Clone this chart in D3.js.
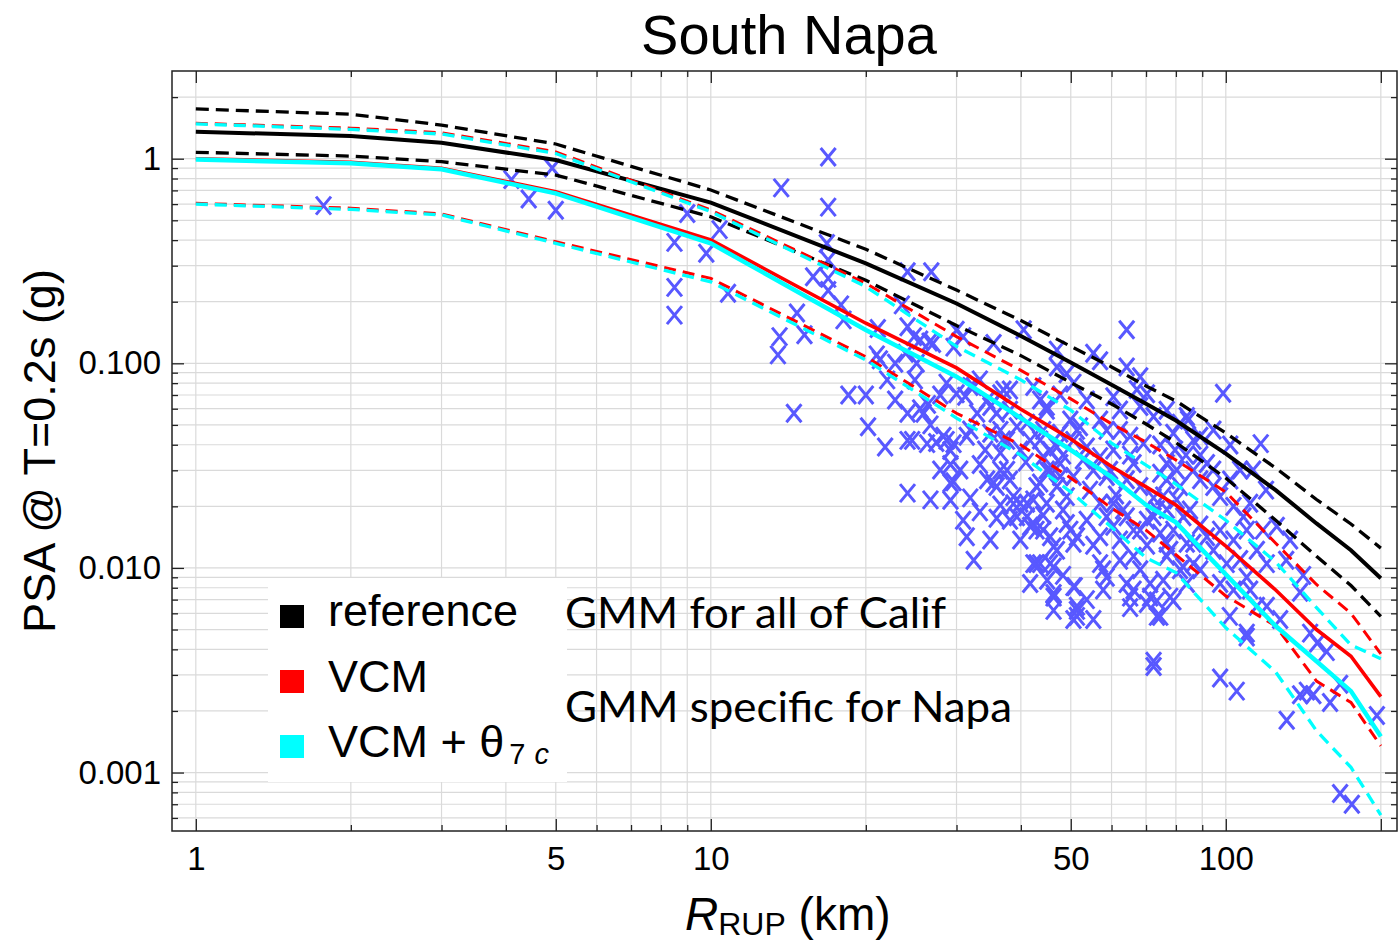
<!DOCTYPE html>
<html>
<head>
<meta charset="utf-8">
<script src="https://cdn.jsdelivr.net/npm/d3@7"></script>
<style>
  body { margin: 0; background: #fff; }
  svg { display: block; }
</style>
</head>
<body>
<div id="chart"></div>
<script>
// distances (km) at which the model curves are evaluated
const rNodes = [1, 2, 3, 5, 10, 20, 30, 40, 50, 60, 70, 80, 100, 125, 150, 175, 200];

// reference GMM (all of California): median and +/- sigma
const refMedian = [1.355, 1.29, 1.197, 0.985, 0.610, 0.308, 0.196, 0.136, 0.101, 0.0785, 0.0635, 0.0525, 0.0362, 0.024, 0.0165, 0.0122, 0.0089];
const refUpper  = [1.75, 1.65, 1.46, 1.18, 0.703, 0.361, 0.228, 0.162, 0.121, 0.096, 0.0775, 0.0655, 0.0456, 0.0308, 0.0216, 0.0164, 0.0125];
const refLower  = [1.075, 1.03, 0.967, 0.832, 0.52, 0.2545, 0.153, 0.109, 0.0805, 0.0633, 0.0505, 0.041, 0.0275, 0.0171, 0.0114, 0.0082, 0.0058];

// VCM
const vcmMedian = [1.0, 0.96, 0.898, 0.690, 0.401, 0.157, 0.095, 0.0596, 0.0427, 0.0313, 0.0249, 0.0203, 0.0128, 0.0078, 0.005, 0.0037, 0.00235];
const vcmUpper  = [1.49, 1.41, 1.34, 1.08, 0.561, 0.246, 0.135, 0.0923, 0.067, 0.0506, 0.0412, 0.0337, 0.0235, 0.0132, 0.0083, 0.006, 0.0038];
const vcmLower  = [0.605, 0.573, 0.537, 0.393, 0.26, 0.1077, 0.057, 0.0399, 0.0275, 0.0196, 0.0153, 0.0116, 0.0073, 0.0052, 0.0028, 0.0022, 0.00135];

// VCM + theta_7c
const thMedian = [0.99, 0.95, 0.888, 0.677, 0.386, 0.1455, 0.086, 0.054, 0.0377, 0.0278, 0.0203, 0.0167, 0.0093, 0.0052, 0.0035, 0.0025, 0.0015];
const thUpper  = [1.48, 1.39, 1.32, 1.06, 0.551, 0.237, 0.121, 0.083, 0.059, 0.0407, 0.0318, 0.0257, 0.0171, 0.0107, 0.0064, 0.0042, 0.0036];
const thLower  = [0.60, 0.565, 0.531, 0.386, 0.25, 0.1038, 0.054, 0.0356, 0.0235, 0.0158, 0.0112, 0.0095, 0.0051, 0.0031, 0.0016, 0.00106, 0.00062];

// recorded stations: rupture distance (km) and PSA (g)
const obsR = [
  1.77, 4.1, 4.43, 4.92, 5.0, 9.0, 8.5, 9.8, 10.4, 8.5, 8.5, 10.8, 13.7, 16.9, 16.9, 16.8, 16.9, 15.8, 16.9, 16.9,
  17.9, 18.1, 14.7, 13.6, 13.5, 15.2, 21.1, 21.0, 22.0, 18.5, 20.0, 14.5, 20.2, 21.8, 24.1, 26.8, 23.5, 24.1, 25.5, 26.6,
  23.9, 22.8, 25.1, 28.7, 24.1, 25.9, 24.1, 26.3, 28.7, 29.6, 29.2, 31.4, 31.2, 31.9, 33.3, 34.4, 33.3, 29.6, 30.9, 35.4,
  30.0, 35.9, 34.9, 36.5, 40.5, 47.0, 55.3, 24.1, 25.5, 26.4, 24.6, 27.4, 29.2, 29.6, 29.2, 31.9, 33.3, 35.9, 31.4, 32.4,
  34.4, 35.9, 38.7, 41.1, 41.7, 44.2, 41.7, 42.9, 45.6, 46.3, 45.0, 46.3, 46.3, 50.9, 51.4, 51.4, 49.9, 51.4, 49.1, 42.9,
  47.7, 45.6, 32.9, 34.9, 36.5, 37.6, 39.3, 41.7, 49.9, 52.1, 47.7, 50.6, 64.2, 57.0, 64.2, 47.0, 49.1, 70.3, 68.2, 72.4,
  79.1, 84.0, 86.5, 24.8, 27.0, 37.0, 42.3, 44.9, 50.6, 28.3, 30.0, 32.4, 38.1, 36.5, 44.2, 47.0, 44.2, 53.7, 57.0, 55.3,
  58.7, 29.2, 35.4, 36.5, 38.7, 41.1, 39.3, 42.3, 44.9, 43.6, 47.0, 49.1, 50.6, 47.7, 43.6, 50.6, 50.6, 47.0, 45.6, 50.6,
  57.0, 58.7, 57.0, 60.5, 64.2, 66.2, 62.3, 57.0, 58.7, 57.8, 64.2, 65.2, 65.2, 66.2, 71.3, 75.6, 74.6, 70.3, 66.2, 64.2,
  68.2, 74.6, 76.8, 72.4, 76.8, 81.5, 79.1, 84.0, 72.4, 76.8, 86.5, 81.5, 76.8, 68.2, 60.5, 67.2, 76.8, 81.5, 84.5, 94.6,
  89.2, 98.8, 116.9, 58.7, 62.3, 65.2, 69.2, 59.6, 80.3, 76.8, 86.5, 91.9, 89.2, 94.6, 97.5, 103.5, 111.5, 108.2, 125.6, 73.5,
  82.7, 74.6, 68.2, 60.5, 66.2, 86.5, 91.9, 97.5, 94.6, 103.5, 109.8, 100.4, 106.6, 114.9, 120.1, 109.8, 97.5, 103.5, 89.2, 84.0,
  71.3, 73.5, 78.0, 101.8, 109.8, 114.9, 120.1, 127.5, 139.4, 72.4, 72.4, 97.5, 105.0, 145.8, 150.5, 157.0, 143.7, 147.9, 159.4, 166.7,
  131.3, 196.5, 166.7, 175.7, 38.1, 44.9, 51.4, 41.1, 37.6, 45.6, 39.9, 42.9, 42.3, 46.3, 57.8, 46.3, 51.4, 73.5, 79.1, 82.7,
  109.8, 139.4, 36.9, 39.9, 40.9, 43.6, 44.9, 48.3, 52.8, 54.5, 42.3, 44.2, 48.3, 53.7, 55.3, 38.1, 36.5, 39.9, 48.3, 53.7,
  55.3, 61.2, 63.2, 70.3, 75.6, 80.3, 85.2, 89.2, 70.3, 78.0, 62.3, 68.2, 83.7, 89.2, 94.5, 102.0, 106.6, 74.6, 79.7, 65.2,
  60.5, 30.5, 27.9, 26.7, 30.9, 34.9, 38.1, 31.9, 34.1, 26.7, 21.3, 22.8, 24.9, 27.9, 43.6, 47.7, 53.7, 57.0, 62.3, 102.0,
  113.0, 119.7, 118.1, 133.3, 131.0, 141.3, 111.5
];
const obsPSA = [
  0.59, 0.79, 0.635, 0.90, 0.56, 0.54, 0.39, 0.345, 0.45, 0.235, 0.172, 0.22, 0.72, 1.02, 0.58, 0.385, 0.32, 0.265, 0.26, 0.227,
  0.193, 0.163, 0.176, 0.135, 0.11, 0.138, 0.148, 0.11, 0.083, 0.07, 0.07, 0.057, 0.049, 0.039, 0.28, 0.28, 0.193, 0.151, 0.13, 0.127,
  0.112, 0.10, 0.10, 0.08, 0.057, 0.057, 0.042, 0.0405, 0.042, 0.0405, 0.032, 0.044, 0.069, 0.077, 0.083, 0.066, 0.032, 0.12, 0.135, 0.125,
  0.145, 0.057, 0.0455, 0.0365, 0.146, 0.116, 0.112, 0.0232, 0.06, 0.063, 0.042, 0.041, 0.0375, 0.0264, 0.0214, 0.022, 0.0188, 0.0175, 0.0142, 0.0109,
  0.027, 0.025, 0.0206, 0.0178, 0.016, 0.0153, 0.0084, 0.0105, 0.0105, 0.0127, 0.0087, 0.0072, 0.0062, 0.0081, 0.0062, 0.0058, 0.0153, 0.0142, 0.0165, 0.025,
  0.0324, 0.030, 0.057, 0.0615, 0.071, 0.042, 0.049, 0.042, 0.0528, 0.049, 0.0455, 0.042, 0.146, 0.103, 0.096, 0.096, 0.089, 0.071, 0.0615, 0.055,
  0.0455, 0.055, 0.042, 0.135, 0.125, 0.074, 0.077, 0.0615, 0.08, 0.044, 0.071, 0.077, 0.059, 0.047, 0.047, 0.039, 0.035, 0.039, 0.035, 0.030,
  0.028, 0.026, 0.026, 0.030, 0.0223, 0.0207, 0.0178, 0.0165, 0.0207, 0.026, 0.025, 0.0223, 0.028, 0.028, 0.0105, 0.0081, 0.0056, 0.0122, 0.0142, 0.0132,
  0.0207, 0.0178, 0.0142, 0.016, 0.0178, 0.0153, 0.0137, 0.0105, 0.009, 0.0078, 0.0084, 0.0072, 0.0064, 0.0078, 0.0084, 0.0087, 0.0058, 0.0067, 0.0324, 0.027,
  0.025, 0.029, 0.0324, 0.022, 0.0193, 0.025, 0.0153, 0.0132, 0.0178, 0.0132, 0.0105, 0.0098, 0.0114, 0.086, 0.0686, 0.0745, 0.059, 0.051, 0.0528, 0.0472,
  0.044, 0.0714, 0.0405, 0.047, 0.047, 0.044, 0.0405, 0.030, 0.0301, 0.027, 0.030, 0.0324, 0.027, 0.025, 0.0223, 0.020, 0.0207, 0.0178, 0.016, 0.0193,
  0.0178, 0.0148, 0.0153, 0.0207, 0.0114, 0.0132, 0.0142, 0.0153, 0.0122, 0.0137, 0.0153, 0.0105, 0.011, 0.0122, 0.0105, 0.009, 0.0084, 0.0078, 0.0098, 0.0084,
  0.0072, 0.0058, 0.0072, 0.0058, 0.0048, 0.0065, 0.0065, 0.0056, 0.0076, 0.0035, 0.0033, 0.0029, 0.0025, 0.0048, 0.0043, 0.0039, 0.0025, 0.0024, 0.0022, 0.0027,
  0.0018, 0.0019, 0.00079, 0.0007, 0.074, 0.059, 0.047, 0.051, 0.030, 0.0375, 0.0207, 0.0153, 0.0105, 0.0075, 0.0098, 0.0101, 0.0065, 0.0069, 0.0069, 0.0101,
  0.0046, 0.0024, 0.0422, 0.0377, 0.0329, 0.0422, 0.0301, 0.0356, 0.0337, 0.024, 0.0215, 0.0181, 0.0192, 0.0171, 0.0129, 0.0269, 0.0203, 0.0137, 0.0092, 0.007,
  0.0056, 0.0227, 0.0192, 0.0171, 0.0225, 0.0215, 0.0192, 0.0162, 0.0129, 0.0122, 0.0109, 0.0098, 0.0356, 0.0356, 0.0301, 0.0269, 0.0301, 0.0399, 0.0377, 0.0356,
  0.0377, 0.0301, 0.0301, 0.0215, 0.0171, 0.0137, 0.0171, 0.0472, 0.0377, 0.05, 0.104, 0.0662, 0.0829, 0.070, 0.0662, 0.070, 0.0662, 0.0528, 0.0591, 0.0399,
  0.0301, 0.024, 0.0153, 0.0137, 0.0109, 0.0092, 0.0078
];

// tick values
const xMajorTicks = [1, 5, 10, 50, 100, 200];
const xMinorTicks = [2, 3, 4, 6, 7, 8, 9, 20, 30, 40, 60, 70, 80, 90];
const yMajorTicks = [1, 0.1, 0.01, 0.001];
const yLabels = {1: "1", 0.1: "0.100", 0.01: "0.010", 0.001: "0.001"};

const legendNames = ["reference", "VCM", "VCM + θ"];
const legendColors = ["#000000", "#ff0000", "#00ffff"];

const W = 1398, H = 945;
const L = 172, R = 1397, T = 71, B = 831;
const sansFont = "'Liberation Sans', Arial, sans-serif";

const x = d3.scaleLog().domain([0.899, 215]).range([L, R]);
const y = d3.scaleLog().domain([0.000518, 2.683]).range([B, T]);

const yMinorTicks = [];
[-4, -3, -2, -1, 0].forEach(e => {
    for (let m = 2; m <= 9; m++) {
        const v = +(m * Math.pow(10, e)).toPrecision(3);
        if (v > 0.000518 && v < 2.683) yMinorTicks.push(v);
    }
});

const svg = d3.select("#chart").append("svg")
    .attr("width", W)
    .attr("height", H)
    .style("font-family", sansFont);

// grid
const grid = svg.append("g");
grid.selectAll("line.gx")
    .data(xMajorTicks.concat(xMinorTicks))
    .join("line")
    .attr("x1", d => x(d)).attr("x2", d => x(d))
    .attr("y1", T).attr("y2", B)
    .attr("stroke", "#dadada").attr("stroke-width", 1.2);
grid.selectAll("line.gy")
    .data(yMajorTicks.concat(yMinorTicks))
    .join("line")
    .attr("x1", L).attr("x2", R)
    .attr("y1", d => y(d)).attr("y2", d => y(d))
    .attr("stroke", "#dadada").attr("stroke-width", 1.2);

// station records, drawn as X marks
const cross = "M-7.5,-9L7.5,9M7.5,-9L-7.5,9";
svg.append("g")
    .selectAll("path")
    .data(obsR.map((r, i) => [r, obsPSA[i]]))
    .join("path")
    .attr("transform", d => `translate(${x(d[0])},${y(d[1])})`)
    .attr("d", cross)
    .attr("fill", "none")
    .attr("stroke", "#5858ff")
    .attr("stroke-width", 3);

// model curves
const line = d3.line()
    .x((d, i) => x(rNodes[i]))
    .y(d => y(d));

const curves = [
    { v: refUpper, c: "#000000", w: 3.3, dash: "13,7" },
    { v: refLower, c: "#000000", w: 3.3, dash: "13,7" },
    { v: refMedian, c: "#000000", w: 4, dash: null },
    { v: vcmUpper, c: "#ff0000", w: 3, dash: "12,7" },
    { v: vcmLower, c: "#ff0000", w: 3, dash: "12,7" },
    { v: vcmMedian, c: "#ff0000", w: 3.6, dash: null },
    { v: thUpper, c: "#00ffff", w: 3.3, dash: "12,7" },
    { v: thLower, c: "#00ffff", w: 3.3, dash: "12,7" },
    { v: thMedian, c: "#00ffff", w: 4.5, dash: null }
];

svg.append("g")
    .selectAll("path")
    .data(curves)
    .join("path")
    .attr("d", d => line(d.v))
    .attr("fill", "none")
    .attr("stroke", d => d.c)
    .attr("stroke-width", d => d.w)
    .attr("stroke-dasharray", d => d.dash);

// axes (ticks point inward)
function styleAxis(g) {
    g.select(".domain").remove();
    g.attr("color", "#222")
        .attr("font-family", sansFont)
        .attr("font-size", 33);
    g.selectAll(".tick line").attr("stroke-width", 1.3);
    g.selectAll(".tick text").attr("fill", "#000");
}

svg.append("g").attr("transform", `translate(0,${B})`)
    .call(d3.axisBottom(x).tickValues(xMajorTicks).tickSize(-12).tickPadding(16)
        .tickFormat(d => d === 200 ? "" : d))
    .call(styleAxis);
svg.append("g").attr("transform", `translate(0,${B})`)
    .call(d3.axisBottom(x).tickValues(xMinorTicks).tickSize(-6).tickFormat(""))
    .call(styleAxis);
svg.append("g").attr("transform", `translate(0,${T})`)
    .call(d3.axisTop(x).tickValues(xMajorTicks).tickSize(-12).tickFormat(""))
    .call(styleAxis);
svg.append("g").attr("transform", `translate(0,${T})`)
    .call(d3.axisTop(x).tickValues(xMinorTicks).tickSize(-6).tickFormat(""))
    .call(styleAxis);

svg.append("g").attr("transform", `translate(${L},0)`)
    .call(d3.axisLeft(y).tickValues(yMajorTicks).tickSize(-12).tickPadding(11)
        .tickFormat(d => yLabels[d]))
    .call(styleAxis);
svg.append("g").attr("transform", `translate(${L},0)`)
    .call(d3.axisLeft(y).tickValues(yMinorTicks).tickSize(-6).tickFormat(""))
    .call(styleAxis);
svg.append("g").attr("transform", `translate(${R},0)`)
    .call(d3.axisRight(y).tickValues(yMajorTicks).tickSize(-12).tickFormat(""))
    .call(styleAxis);
svg.append("g").attr("transform", `translate(${R},0)`)
    .call(d3.axisRight(y).tickValues(yMinorTicks).tickSize(-6).tickFormat(""))
    .call(styleAxis);

// frame
svg.append("rect")
    .attr("x", L).attr("y", T)
    .attr("width", R - L).attr("height", B - T)
    .attr("fill", "none")
    .attr("stroke", "#222")
    .attr("stroke-width", 1.5);

// legend
svg.append("rect")
    .attr("x", 268).attr("y", 578)
    .attr("width", 299).attr("height", 204)
    .attr("fill", "#fff");

const legend = svg.append("g");
legendNames.forEach((name, i) => {
    legend.append("rect")
        .attr("x", 280).attr("y", 605 + i * 65)
        .attr("width", 24).attr("height", 23)
        .attr("fill", legendColors[i]);
    const t = legend.append("text")
        .attr("x", 328).attr("y", 626 + i * 65.5)
        .attr("font-size", 45)
        .attr("fill", "#000")
        .text(name);
    if (i === 2) {
        t.append("tspan").attr("font-size", 29).attr("dx", 5).attr("dy", 7).text("7");
        t.append("tspan").attr("font-size", 29).attr("font-style", "italic").attr("dx", 9).text("c");
    }
});

// annotations
svg.append("text")
    .attr("x", 565).attr("y", 628)
    .attr("font-family", "Lato, 'Open Sans', sans-serif")
    .attr("font-size", 42)
    .attr("textLength", 381).attr("lengthAdjust", "spacingAndGlyphs")
    .text("GMM for all of Calif");
svg.append("text")
    .attr("x", 565).attr("y", 722)
    .attr("font-family", "Lato, 'Open Sans', sans-serif")
    .attr("font-size", 42)
    .attr("textLength", 447).attr("lengthAdjust", "spacingAndGlyphs")
    .text("GMM specific for Napa");

// title and axis titles
svg.append("text")
    .attr("x", 789).attr("y", 54)
    .attr("text-anchor", "middle")
    .attr("font-size", 56)
    .text("South Napa");

svg.append("text")
    .attr("transform", "translate(55,451) rotate(-90)")
    .attr("text-anchor", "middle")
    .attr("font-size", 45)
    .text("PSA @ T=0.2s (g)");

const xt = svg.append("text")
    .attr("x", 685).attr("y", 930)
    .attr("font-size", 46);
xt.append("tspan").attr("font-style", "italic").text("R");
xt.append("tspan").attr("font-size", 32).attr("dy", 5).text("RUP");
xt.append("tspan").attr("dy", -5).text(" (km)");
</script>
</body>
</html>
